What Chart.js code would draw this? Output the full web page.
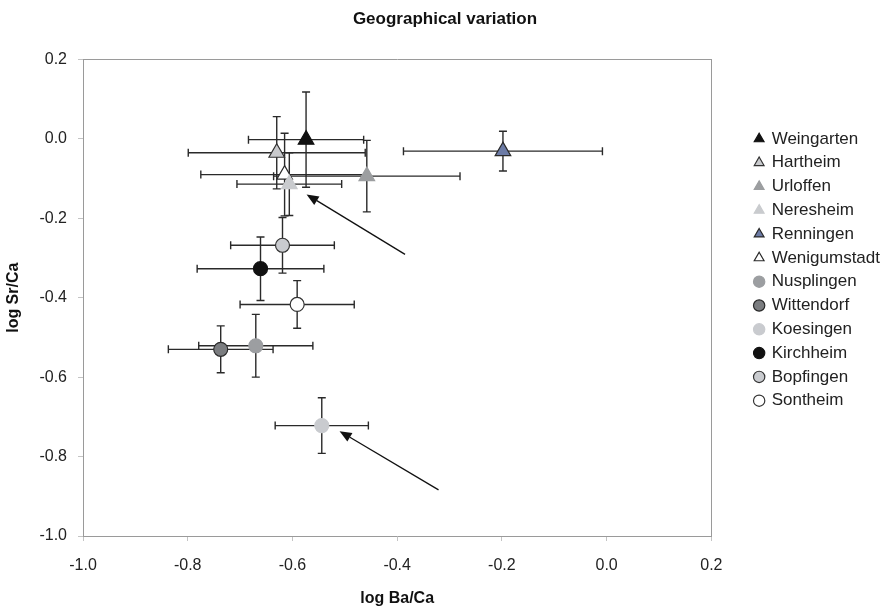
<!DOCTYPE html>
<html>
<head>
<meta charset="utf-8">
<script src="https://cdn.jsdelivr.net/npm/chart.js@4/dist/chart.umd.min.js"></script>
<style>
html, body { margin: 0; padding: 0; background: #fff; }
#wrap { width: 896px; height: 608px; }
</style>
</head>
<body>
<div id="wrap"><canvas id="myChart" width="896" height="608"></canvas></div>
<script>
"use strict"
// Fundorte (Reihenfolge wie in der Legende)
const sites = ['Weingarten', 'Hartheim', 'Urloffen', 'Neresheim', 'Renningen', 'Wenigumstadt',
  'Nusplingen', 'Wittendorf', 'Koesingen', 'Kirchheim', 'Bopfingen', 'Sontheim'];
// Mittelwerte
const logBaCa = [-0.574, -0.630, -0.458, -0.606, -0.198, -0.615, -0.670, -0.737, -0.544, -0.661, -0.619, -0.591];
const logSrCa = [-0.002, -0.035, -0.094, -0.114, -0.031, -0.090, -0.521, -0.530, -0.722, -0.327, -0.268, -0.417];
// Fehlerbalken (+/-)
const errBaCa = [0.110, 0.169, 0.178, 0.100, 0.190, 0.160, 0.109, 0.100, 0.089, 0.121, 0.099, 0.109];
const errSrCa = [0.120, 0.091, 0.090, 0.079, 0.050, 0.104, 0.079, 0.059, 0.070, 0.080, 0.070, 0.060];
// Achsen
const xTickVals = [-1.0, -0.8, -0.6, -0.4, -0.2, 0.0, 0.2];
const yTickVals = [-1.0, -0.8, -0.6, -0.4, -0.2, 0.0, 0.2];
// Pfeile: [von x, von y, nach x, nach y]
const arrows = [[-0.385, -0.291, -0.573, -0.140], [-0.321, -0.884, -0.510, -0.736]];

// Aussehen der Marker
const markerStyle = [
  ['triangle', '#111111', '#111111'],
  ['triangle', '#c9cacd', '#333333'],
  ['triangle', '#9c9ea0', '#9c9ea0'],
  ['triangle', '#c9cbce', '#c9cbce'],
  ['triangle', '#6c7ba6', '#2a2a2a'],
  ['triangle', '#ffffff', '#2a2a2a'],
  ['circle', '#9c9ea1', '#9c9ea1'],
  ['circle', '#7b7d80', '#2a2a2a'],
  ['circle', '#c9cbcf', '#c9cbcf'],
  ['circle', '#111111', '#111111'],
  ['circle', '#c9cbcf', '#333333'],
  ['circle', '#ffffff', '#333333']
];

const fmt = v => (Math.abs(v) < 1e-9 ? '0.0' : v.toFixed(1));
const fontFam = '"Liberation Sans", Arial, sans-serif';

// Fehlerbalken und Pfeile zeichnen
const errorBars = {
  id: 'errorBars',
  beforeDatasetsDraw(chart) {
    const {ctx, scales: {x, y}} = chart;
    const cap = 4;
    ctx.save();
    ctx.strokeStyle = '#2a2a2a';
    ctx.lineWidth = 1.4;
    for (let i = 0; i < sites.length; i++) {
      const px = x.getPixelForValue(logBaCa[i]);
      const py = y.getPixelForValue(logSrCa[i]);
      const xl = x.getPixelForValue(logBaCa[i] - errBaCa[i]);
      const xr = x.getPixelForValue(logBaCa[i] + errBaCa[i]);
      const yt = y.getPixelForValue(logSrCa[i] + errSrCa[i]);
      const yb = y.getPixelForValue(logSrCa[i] - errSrCa[i]);
      ctx.beginPath();
      ctx.moveTo(xl, py); ctx.lineTo(xr, py);
      ctx.moveTo(xl, py - cap); ctx.lineTo(xl, py + cap);
      ctx.moveTo(xr, py - cap); ctx.lineTo(xr, py + cap);
      ctx.moveTo(px, yt); ctx.lineTo(px, yb);
      ctx.moveTo(px - cap, yt); ctx.lineTo(px + cap, yt);
      ctx.moveTo(px - cap, yb); ctx.lineTo(px + cap, yb);
      ctx.stroke();
    }
    ctx.restore();
  },
  afterDatasetsDraw(chart) {
    const {ctx, scales: {x, y}} = chart;
    ctx.save();
    ctx.strokeStyle = '#111';
    ctx.fillStyle = '#111';
    ctx.lineWidth = 1.3;
    arrows.forEach(a => {
      const x0 = x.getPixelForValue(a[0]), y0 = y.getPixelForValue(a[1]);
      const x1 = x.getPixelForValue(a[2]), y1 = y.getPixelForValue(a[3]);
      const ang = Math.atan2(y1 - y0, x1 - x0);
      const len = 12, half = 5;
      const bx = x1 - len * Math.cos(ang), by = y1 - len * Math.sin(ang);
      ctx.beginPath();
      ctx.moveTo(x0, y0); ctx.lineTo(bx, by);
      ctx.stroke();
      ctx.beginPath();
      ctx.moveTo(x1, y1);
      ctx.lineTo(bx + half * Math.sin(ang), by - half * Math.cos(ang));
      ctx.lineTo(bx - half * Math.sin(ang), by + half * Math.cos(ang));
      ctx.closePath();
      ctx.fill();
    });
    ctx.restore();
  }
};

const datasets = sites.map((name, i) => ({
  label: name,
  data: [{x: logBaCa[i], y: logSrCa[i]}],
  pointStyle: markerStyle[i][0],
  backgroundColor: markerStyle[i][1],
  borderColor: markerStyle[i][2],
  borderWidth: 1.2,
  pointRadius: markerStyle[i][0] === 'triangle' ? 9 : 7,
  pointHoverRadius: markerStyle[i][0] === 'triangle' ? 9 : 7
}));

const config = {
  type: 'scatter',
  data: { datasets: datasets },
  options: {
    responsive: false,
    animation: false,
    layout: { padding: { left: 0, right: 6, top: 0, bottom: 0 } },
    plugins: {
      tooltip: { enabled: false },
      title: {
        display: true,
        text: 'Geographical variation',
        color: '#111',
        font: { family: fontFam, size: 17, weight: 'bold' },
        padding: { top: 9, bottom: 30 }
      },
      legend: {
        position: 'right',
        align: 'start',
        fullSize: false,
        title: { display: true, text: ' ', font: { size: 1 }, padding: { top: 63, bottom: 0 } },
        labels: {
          usePointStyle: true,
          boxWidth: 8,
          boxHeight: 8,
          padding: 6.8,
          color: '#222',
          font: { family: fontFam, size: 17 }
        }
      }
    },
    scales: {
      x: {
        type: 'linear',
        position: 'bottom',
        min: -1.0, max: 0.2,
        afterBuildTicks: s => { s.ticks = xTickVals.map(v => ({value: v})) },
        afterFit: s => { s.height = 72 },
        grid: { drawOnChartArea: false, drawTicks: true, tickLength: 5, color: '#c4c4c4' },
        border: { display: true, color: '#9a9a9a', width: 1 },
        ticks: { padding: 15, color: '#222', font: { family: fontFam, size: 16 }, callback: v => fmt(v) },
        title: { display: true, text: 'log Ba/Ca', color: '#111', padding: { top: 0, bottom: 0 },
          font: { family: fontFam, size: 16, weight: 'bold' } }
      },
      y: {
        type: 'linear',
        position: 'left',
        min: -1.0, max: 0.2,
        afterBuildTicks: s => { s.ticks = yTickVals.map(v => ({value: v})) },
        afterFit: s => { s.width = 83 },
        grid: { drawOnChartArea: false, drawTicks: true, tickLength: 5, color: '#c4c4c4' },
        border: { display: true, color: '#9a9a9a', width: 1 },
        ticks: { padding: 11, color: '#222', font: { family: fontFam, size: 16 }, callback: v => fmt(v) },
        title: { display: true, text: 'log Sr/Ca', color: '#111', padding: { top: 4, bottom: 4 },
          font: { family: fontFam, size: 16, weight: 'bold' } }
      },
      x2: {
        type: 'linear',
        position: 'top',
        afterFit: s => { s.height = 0 },
        grid: { display: false },
        ticks: { display: false },
        border: { display: true, color: '#9a9a9a', width: 1 }
      },
      y2: {
        type: 'linear',
        position: 'right',
        afterFit: s => { s.width = 37 },
        grid: { display: false },
        ticks: { display: false },
        border: { display: true, color: '#9a9a9a', width: 1 }
      }
    }
  },
  plugins: [errorBars]
};

new Chart(document.getElementById('myChart'), config);
</script>
</body>
</html>
